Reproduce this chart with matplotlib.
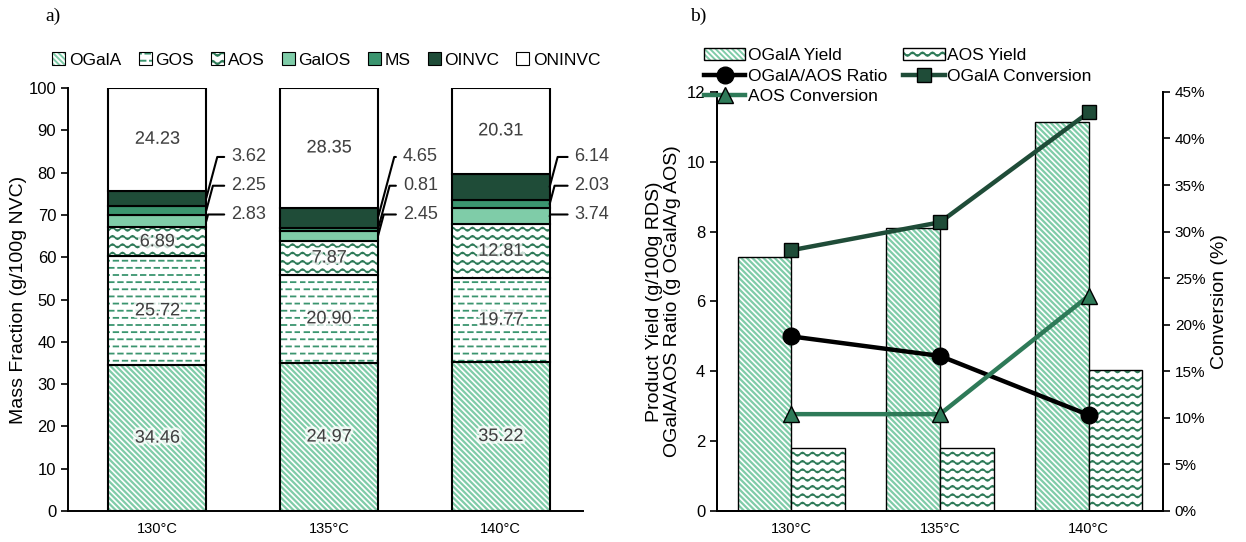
import numpy as np
import matplotlib
matplotlib.use('Agg')
import matplotlib.pyplot as plt
import matplotlib.patheffects as pe
from matplotlib import hatch as mhatch
from matplotlib.path import Path
from matplotlib.patches import Patch
from matplotlib.colors import to_rgba
from matplotlib.ticker import PercentFormatter

# ---- data -------------------------------------------------------------
temps = ['130°C', '135°C', '140°C']

# panel a) mass fraction (g/100g NVC), stacked bottom -> top
ogala = [34.46, 34.97, 35.22]
gos = [25.72, 20.90, 19.77]
aos = [6.89, 7.87, 12.81]
galos = [2.83, 2.45, 3.74]
ms = [2.25, 0.81, 2.03]
oinvc = [3.62, 4.65, 6.14]
oninvc = [24.23, 28.35, 20.31]
ogala_text = ['34.46', '24.97', '35.22']   # labels as printed on the chart

# panel b)
ogala_yield = [7.28, 8.10, 11.15]
aos_yield = [1.80, 1.80, 4.03]
ratio = [5.00, 4.44, 2.75]
ogala_conv = [0.280, 0.310, 0.428]
aos_conv = [0.104, 0.104, 0.231]

# ---- colours ----------------------------------------------------------
C_LIGHT = '#7fcca8'
C_MID = '#3b956f'
C_WAVE = '#2e7a58'
C_DARK = '#1f4c38'
C_TEXT = '#404040'


# ---- custom hatches (dashed rows and waves) ---------------------------
class DashHatch(mhatch.HatchPatternBase):
    rows, dashes, frac = 14, 11, 0.5

    def __init__(self, hatch, density):
        self.num_vertices = 2 * self.rows * self.dashes if 'd' in hatch else 0

    def set_vertices_and_codes(self, vertices, codes):
        step = 1.0 / self.dashes
        k = 0
        for r in range(self.rows):
            y = (r + 0.5) / self.rows
            shift = 0.5 * step if r % 2 else 0.0
            for d in range(self.dashes):
                x0 = d * step + shift
                vertices[k] = (x0, y)
                vertices[k + 1] = (x0 + self.frac * step, y)
                codes[k] = Path.MOVETO
                codes[k + 1] = Path.LINETO
                k += 2


class WaveHatch(mhatch.HatchPatternBase):
    rows, waves, pts = 12, 10, 8

    def __init__(self, hatch, density):
        n = self.waves * self.pts + 1
        self.num_vertices = self.rows * n if 'w' in hatch else 0

    def set_vertices_and_codes(self, vertices, codes):
        n = self.waves * self.pts + 1
        xs = np.linspace(0, 1, n)
        ys = 0.017 * np.sin(np.linspace(0, 2 * np.pi * self.waves, n))
        for r in range(self.rows):
            y = (r + 0.5) / self.rows
            vertices[r * n:(r + 1) * n, 0] = xs
            vertices[r * n:(r + 1) * n, 1] = y + ys
            codes[r * n] = Path.MOVETO
            codes[r * n + 1:(r + 1) * n] = Path.LINETO


mhatch._hatch_types.extend([DashHatch, WaveHatch])
mhatch._validate_hatch_pattern = lambda h: None

H_DIAG = '\\\\\\\\\\\\'
H_DASH = 'd'
H_WAVE = 'w'
HATCH_LW = {H_DIAG: 1.6, H_DASH: 1.3, H_WAVE: 1.2}


def style_hatch(p, hatch, color):
    p._hatch_color = to_rgba(color)
    if hasattr(p, 'set_hatch_linewidth'):
        p.set_hatch_linewidth(HATCH_LW[hatch])
    p.stale = True


plt.rcParams['font.family'] = ['Liberation Sans', 'DejaVu Sans']
plt.rcParams['hatch.linewidth'] = 1.4
plt.rcParams['axes.linewidth'] = 1.4

fig = plt.figure(figsize=(12.46, 5.42), dpi=100)
ax = fig.add_axes([0.0546, 0.0572, 0.4134, 0.7804])
axb = fig.add_axes([0.5754, 0.0572, 0.3580, 0.7732])

glow = [pe.withStroke(linewidth=4, foreground='white', alpha=0.75)]

# ---- panel a) ---------------------------------------------------------
x = np.arange(len(temps))
w = 0.57
layers = [
    ('OGalA', ogala, 'white', H_DIAG, C_LIGHT),
    ('GOS', gos, 'white', H_DASH, C_MID),
    ('AOS', aos, 'white', H_WAVE, C_WAVE),
    ('GalOS', galos, C_LIGHT, None, None),
    ('MS', ms, C_MID, None, None),
    ('OINVC', oinvc, C_DARK, None, None),
    ('ONINVC', oninvc, 'white', None, None),
]
bottom = np.zeros(len(temps))
handles = []
mids = {}
for name, vals, fc, hatch, hc in layers:
    vals = np.array(vals)
    bars = ax.bar(x, vals, w, bottom=bottom, color=fc, edgecolor='black',
                  linewidth=1.5, hatch=hatch, zorder=2)
    h = Patch(facecolor=fc, edgecolor='black', linewidth=0.8, hatch=hatch)
    if hatch:
        for b in bars:
            style_hatch(b, hatch, hc)
        style_hatch(h, hatch, hc)
    handles.append(h)
    mids[name] = bottom + vals / 2
    bottom = bottom + vals

for i in range(len(temps)):
    ax.text(x[i], mids['OGalA'][i], ogala_text[i], ha='center', va='center',
            fontsize=13, color=C_TEXT, zorder=3, path_effects=glow)
    for name, vals in [('GOS', gos), ('AOS', aos), ('ONINVC', oninvc)]:
        ax.text(x[i], mids[name][i], f'{vals[i]:.2f}', ha='center', va='center',
                fontsize=13, color=C_TEXT, zorder=3, path_effects=glow)
    for name, vals, ly in [('GalOS', galos, 70.1), ('MS', ms, 76.9), ('OINVC', oinvc, 83.7)]:
        ax.annotate(f'{vals[i]:.2f}', xy=(x[i] + w / 2, mids[name][i]),
                    xytext=(x[i] + w / 2 + 0.145, ly), ha='left', va='center',
                    fontsize=13, color=C_TEXT,
                    arrowprops=dict(arrowstyle='-', color='black', lw=1.5,
                                    shrinkA=3, shrinkB=0, relpos=(0, 0.5),
                                    connectionstyle='angle,angleA=0,angleB=75,rad=0'))

ax.set_xlim(-0.52, 2.48)
ax.set_ylim(0, 100)
ax.set_yticks(np.arange(0, 101, 10))
ax.set_xticks(x)
ax.set_xticklabels(temps, fontsize=10.5)
ax.tick_params(axis='y', labelsize=12, direction='out', length=5, width=1.2)
ax.tick_params(axis='x', length=0, pad=8)
ax.set_ylabel('Mass Fraction (g/100g NVC)', fontsize=14, labelpad=1)
for s in ['top', 'right']:
    ax.spines[s].set_visible(False)

fig.legend(handles, [l[0] for l in layers], loc='center', ncol=7,
           bbox_to_anchor=(0.262, 1 - 60 / 542), frameon=False, fontsize=12.5,
           handlelength=0.75, handleheight=0.75, handletextpad=0.2,
           columnspacing=1.0)

# ---- panel b) ---------------------------------------------------------
bw = 0.36
b1 = axb.bar(x - bw / 2, ogala_yield, bw, color='white', edgecolor='black',
             linewidth=1.0, hatch=H_DIAG, zorder=2)
b2 = axb.bar(x + bw / 2, aos_yield, bw, color='white', edgecolor='black',
             linewidth=1.0, hatch=H_WAVE, zorder=2)
for b in b1:
    style_hatch(b, H_DIAG, C_LIGHT)
for b in b2:
    style_hatch(b, H_WAVE, C_WAVE)
l_ratio, = axb.plot(x, ratio, color='black', lw=3.2, marker='o', ms=12, zorder=4)
axb.set_xlim(-0.5, 2.5)
axb.set_ylim(0, 12)
axb.set_yticks(np.arange(0, 13, 2))
axb.set_xticks(x)
axb.set_xticklabels(temps, fontsize=10.5)
axb.tick_params(axis='y', labelsize=12, direction='out', length=5, width=1.2)
axb.tick_params(axis='x', length=0, pad=8)
axb.set_ylabel('Product Yield (g/100g RDS)\nOGalA/AOS Ratio (g OGalA/g AOS)',
               fontsize=14, linespacing=1.05)
axb.spines['top'].set_visible(False)

ax2 = axb.twinx()
l_oc, = ax2.plot(x, ogala_conv, color=C_DARK, lw=3.2, marker='s', ms=10,
                 markerfacecolor=C_DARK, markeredgecolor='black', markeredgewidth=1)
l_ac, = ax2.plot(x, aos_conv, color=C_WAVE, lw=3.2, marker='^', ms=12,
                 markerfacecolor=C_WAVE, markeredgecolor='black', markeredgewidth=1)
ax2.set_ylim(0, 0.45)
ax2.set_yticks(np.arange(0, 0.451, 0.05))
ax2.yaxis.set_major_formatter(PercentFormatter(1.0, decimals=0))
ax2.tick_params(axis='y', labelsize=11, direction='out', length=5, width=1.2)
ax2.set_ylabel('Conversion (%)', fontsize=14)
ax2.spines['top'].set_visible(False)
for s in ['left', 'right', 'bottom']:
    ax2.spines[s].set_linewidth(1.4)

hb1 = Patch(facecolor='white', edgecolor='black', linewidth=1.0, hatch=H_DIAG)
style_hatch(hb1, H_DIAG, C_LIGHT)
hb2 = Patch(facecolor='white', edgecolor='black', linewidth=1.0, hatch=H_WAVE)
style_hatch(hb2, H_WAVE, C_WAVE)
fig.legend([hb1, l_ratio, l_ac, hb2, l_oc],
           ['OGalA Yield', 'OGalA/AOS Ratio', 'AOS Conversion', 'AOS Yield', 'OGalA Conversion'],
           loc='upper left', ncol=2, bbox_to_anchor=(0.555, 1 - 36 / 542),
           frameon=False, fontsize=12.5, handlelength=2.4, handleheight=0.7,
           handletextpad=0.15, columnspacing=0.9, labelspacing=0.3,
           borderpad=0.2)

# ---- panel letters ----------------------------------------------------
fig.text(45 / 1246, 1 - 16 / 542, 'a)', family='Liberation Serif', fontsize=14,
         va='center', ha='left')
fig.text(690 / 1246, 1 - 16 / 542, 'b)', family='Liberation Serif', fontsize=14,
         va='center', ha='left')

fig.savefig('out.png', dpi=100)
